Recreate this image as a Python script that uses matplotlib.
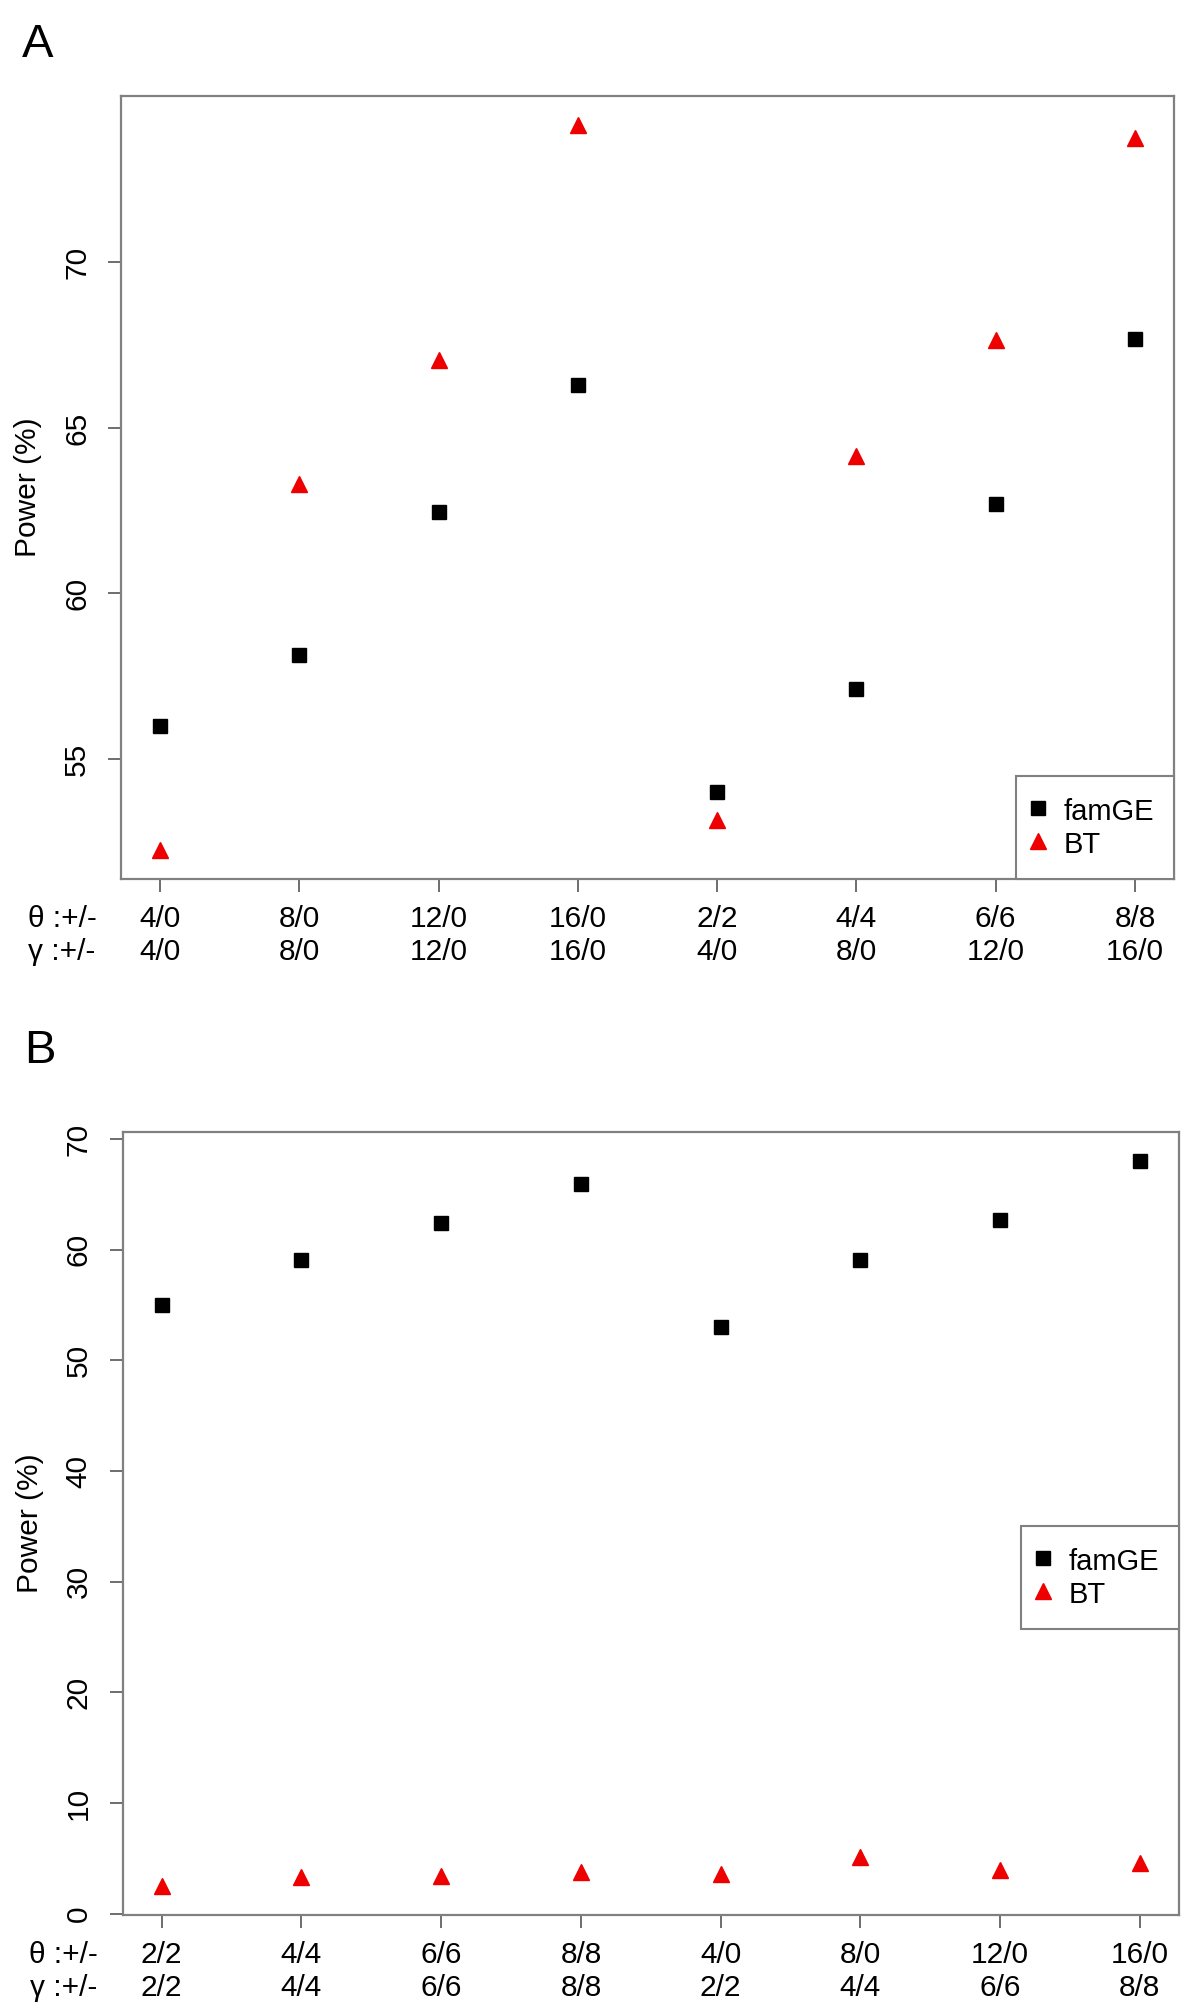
import numpy as np
import matplotlib.pyplot as plt

plt.rcParams['font.family'] = ['Liberation Sans', 'DejaVu Sans']

# Panel A: power by effect pattern
a_theta = ["4/0", "8/0", "12/0", "16/0", "2/2", "4/4", "6/6", "8/8"]
a_gamma = ["4/0", "8/0", "12/0", "16/0", "4/0", "8/0", "12/0", "16/0"]
a_famge = [56.0, 58.15, 62.45, 66.3, 54.0, 57.1, 62.7, 67.7]
a_bt = [52.25, 63.3, 67.05, 74.15, 53.15, 64.15, 67.65, 73.75]
a_yticks = [55, 60, 65, 70]

# Panel B
b_theta = ["2/2", "4/4", "6/6", "8/8", "4/0", "8/0", "12/0", "16/0"]
b_gamma = ["2/2", "4/4", "6/6", "8/8", "2/2", "4/4", "6/6", "8/8"]
b_famge = [55.05, 59.1, 62.45, 65.95, 53.05, 59.1, 62.7, 68.05]
b_bt = [2.5, 3.3, 3.4, 3.8, 3.55, 5.1, 3.95, 4.6]
b_yticks = [0, 10, 20, 30, 40, 50, 60, 70]

W, H = 1193, 2010
FS = 21.5
GRAY = '#808080'


def r_range(vals, frac=0.04):
    # same padding R uses by default
    lo, hi = min(vals), max(vals)
    ext = (hi - lo) * frac
    return lo - ext, hi + ext


def draw_panel(ax, theta, gamma, famge, bt, yticks, legend_y):
    x = np.arange(1, len(theta) + 1)
    ax.plot(x, famge, 's', color='black', ms=9.4, label='famGE', ls='none')
    ax.plot(x, bt, '^', color='#ee0000', ms=11, label='BT', ls='none')

    ax.set_xlim(0.72, len(theta) + 0.28)
    ax.set_ylim(*r_range(list(famge) + list(bt)))

    for s in ax.spines.values():
        s.set_color(GRAY)
        s.set_linewidth(1.6)

    ax.set_xticks(x)
    ax.set_xticklabels([])
    ax.set_yticks(yticks)
    ax.set_yticklabels([str(v) for v in yticks], fontsize=FS)
    ax.tick_params(direction='out', length=9.5, width=1.2, color='#555555')
    ax.tick_params(axis='y', pad=12)
    for lab in ax.get_yticklabels():
        lab.set_rotation(90)
        lab.set_va('center')
        lab.set_ha('right')

    trans = ax.get_xaxis_transform()
    for xi, t, g in zip(x, theta, gamma):
        ax.text(xi, -0.051, t, transform=trans, ha='center', va='center', fontsize=FS)
        ax.text(xi, -0.093, g, transform=trans, ha='center', va='center', fontsize=FS)

    ax.text(-0.056, -0.051, "θ :+/-", transform=ax.transAxes, ha='center', va='center',
            fontsize=FS)
    ax.text(-0.056, -0.093, "γ :+/-", transform=ax.transAxes, ha='center', va='center',
            fontsize=FS)
    ax.text(-0.088, 0.5, "Power (%)", transform=ax.transAxes, rotation=90,
            ha='center', va='center', fontsize=FS)

    leg = ax.legend(loc='lower right', bbox_to_anchor=(1.0, legend_y), borderaxespad=0,
                    fontsize=21, fancybox=False, framealpha=1, edgecolor=GRAY,
                    borderpad=0.68, handlelength=0.15, handleheight=1.1,
                    handletextpad=0.8, labelspacing=0.12, numpoints=1)
    leg.get_frame().set_linewidth(1.5)


fig = plt.figure(figsize=(W / 100, H / 100), dpi=100)
ax_a = fig.add_axes([121 / W, 1 - 879 / H, (1174 - 121) / W, (879 - 96) / H])
ax_b = fig.add_axes([122.5 / W, 1 - 1915 / H, (1179 - 122.5) / W, (1915 - 1131.7) / H])

draw_panel(ax_a, a_theta, a_gamma, a_famge, a_bt, a_yticks, 0.0)
draw_panel(ax_b, b_theta, b_gamma, b_famge, b_bt, b_yticks, 0.365)

fig.text(22 / W, 1 - 57 / H, "A", fontsize=34, ha='left', va='baseline')
fig.text(24 / W, 1 - 1063 / H, "B", fontsize=34, ha='left', va='baseline')

fig.savefig('out.png', dpi=100)
